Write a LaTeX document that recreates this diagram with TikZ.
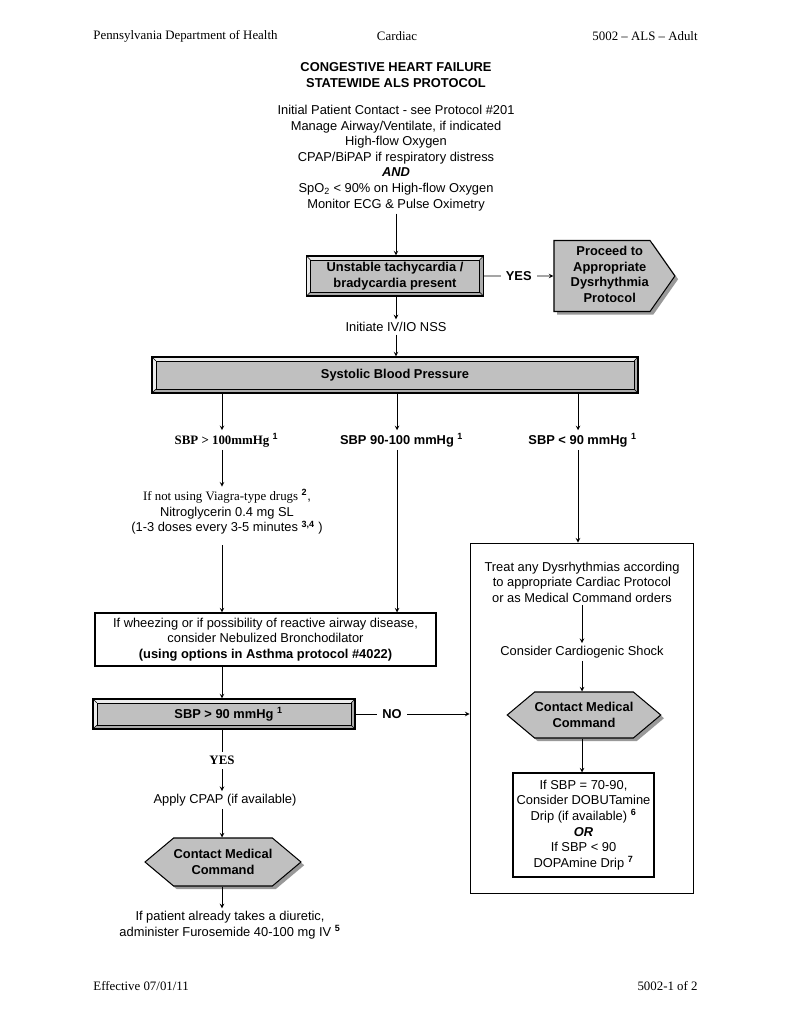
\documentclass[tikz,border=0pt]{standalone}
\usepackage{fontspec}
\setmainfont{Liberation Serif}
\newfontfamily\arialf{Liberation Sans}
\usepackage{xcolor}
\usepackage{tikz}
\usetikzlibrary{shapes.symbols}
\usetikzlibrary{shadows}
\usetikzlibrary{calc}
\tikzset{>=stealth}
\newcommand{\pu}{0.7737bp}
\newcommand{\sups}[1]{\textsuperscript{\arialf\bfseries #1}}
\definecolor{boxgray}{RGB}{192,192,192}
\tikzset{
  hdr/.style={font=\fontsize{10}{12}\selectfont, inner sep=0pt},
  txt/.style={font=\arialf\fontsize{10}{12.1}\selectfont, align=center, inner xsep=0pt, inner ysep=2pt},
  btxt/.style={txt, font=\arialf\bfseries\fontsize{10}{12}\selectfont},
  plainbox/.style={txt, draw, line width=0.8pt, fill=white},
  bevel/.style={btxt, draw, line width=0.9pt, fill=boxgray, path picture={
      \coordinate (ba) at (path picture bounding box.north west);
      \coordinate (bb) at (path picture bounding box.north east);
      \coordinate (bc) at (path picture bounding box.south east);
      \coordinate (bd) at (path picture bounding box.south west);
      \coordinate (ia) at ([shift={(3pt,-3pt)}]ba);
      \coordinate (ib) at ([shift={(-3pt,-3pt)}]bb);
      \coordinate (ic) at ([shift={(-3pt,3pt)}]bc);
      \coordinate (id) at ([shift={(3pt,3pt)}]bd);
      \fill[gray!15] (ba) -- (bb) -- (ib) -- (ia) -- (id) -- (bd) -- cycle;
      \fill[gray!65] (bc) -- (bb) -- (ib) -- (ic) -- (id) -- (bd) -- cycle;
      \filldraw[fill=boxgray, line width=0.4pt] (ia) rectangle (ic);
      \draw[line width=0.4pt] (ba) -- (ia) (bb) -- (ib) (bc) -- (ic) (bd) -- (id);
    }},
  hexa/.style={btxt, draw, line width=0.8pt, fill=boxgray, signal, signal to=east and west,
    signal pointer angle=80, drop shadow={shadow xshift=2.5pt, shadow yshift=-2.5pt, fill=gray, opacity=.8}},
  pointer/.style={btxt, draw, line width=0.8pt, fill=boxgray, signal, signal to=east,
    signal pointer angle=110, inner xsep=1pt, drop shadow={shadow xshift=2.5pt, shadow yshift=-2.5pt, fill=gray, opacity=.8}}
}

\begin{document}
\begin{tikzpicture}[x=\pu, y=-\pu, line width=0.6pt]
  \useasboundingbox[fill=white] (0,0) rectangle (791,1024);

  % header and title
  \node[hdr, anchor=west] (dept) at (93,36) {Pennsylvania Department of Health};
  \node[hdr] (sect) at (397,36) {Cardiac};
  \node[hdr, anchor=east] (pcode) at (698,36) {5002 \textendash{} ALS \textendash{} Adult};
  \node[btxt] (title) at (396,75) {CONGESTIVE HEART FAILURE\\STATEWIDE ALS PROTOCOL};
  \node[txt] (init) at (396,158) {Initial Patient Contact - see Protocol \#201\\Manage Airway/Ventilate, if indicated\\High-flow Oxygen\\CPAP/BiPAP if respiratory distress\\\textbf{\textit{AND}}\\SpO\textsubscript{2} < 90\% on High-flow Oxygen\\Monitor ECG \& Pulse Oximetry};

  % top of the chart
  \node[bevel, minimum width=177*\pu, minimum height=40*\pu] (unst) at (395,276) {Unstable tachycardia /\\bradycardia present};
  \node[pointer, minimum height=71*\pu] (proc) at (602,276) {\hspace*{12pt}\begin{tabular}{@{}c@{}}Proceed to\\Appropriate\\Dysrhythmia\\Protocol\end{tabular}};
  \node[txt] (ivio) at (396,327) {Initiate IV/IO NSS};
  \node[bevel, minimum width=486*\pu, minimum height=36*\pu] (sbp) at (395,375) {Systolic Blood Pressure};

  % three branches
  \node[btxt] (sbpl) at (222,440) {\rmfamily SBP > 100mmHg\rlap{ \sups{1}}};
  \node[btxt] (sbpm) at (397,440) {SBP 90-100 mmHg\rlap{ \sups{1}}};
  \node[btxt] (sbpr) at (578,440) {SBP < 90 mmHg\rlap{ \sups{1}}};

  % left column
  \node[txt] (nitro) at (227,512) {{\rmfamily If not using Viagra-type drugs} \sups{2},\\Nitroglycerin 0.4 mg SL\\(1-3 doses every 3-5 minutes \sups{3,4} )};
  \node[plainbox, minimum width=341*\pu, minimum height=53*\pu] (neb) at (265.5,639.5) {If wheezing or if possibility of reactive airway disease,\\consider Nebulized Bronchodilator\\\textbf{(using options in Asthma protocol \#4022)}};
  \node[bevel, minimum width=262*\pu, minimum height=30*\pu] (sbp90) at (224,714) {SBP > 90 mmHg\rlap{ \sups{1}}};
  \node[txt] (cpap) at (225,800) {Apply CPAP (if available)};
  \node[hexa, minimum width=148*\pu, minimum height=48*\pu] (cmcl) at (223,862) {Contact Medical\\Command};
  \node[txt] (furo) at (230,925) {If patient already takes a diuretic,\\administer Furosemide 40-100 mg IV \sups{5}};

  % right column
  \node[draw, line width=0.7pt, minimum width=223*\pu, minimum height=350*\pu] (rbox) at (581.5,718) {};
  \node[txt] (dys) at (582,582) {Treat any Dysrhythmias according\\to appropriate Cardiac Protocol\\or as Medical Command orders};
  \node[txt] (shock) at (582,652) {Consider Cardiogenic Shock};
  \node[hexa, minimum width=152*\pu, minimum height=46*\pu] (cmcr) at (584,715) {Contact Medical\\Command};
  \node[plainbox, minimum width=141*\pu, minimum height=104*\pu] (drip) at (583.5,825) {If SBP = 70-90,\\Consider DOBUTamine\\Drip (if available) \sups{6}\\\textbf{\textit{OR}}\\If SBP < 90\\DOPAmine Drip \sups{7}};

  % footer
  \node[hdr, anchor=west] (eff) at (93,986) {Effective 07/01/11};
  \node[hdr, anchor=east] (pnum) at (698,986) {5002-1 of 2};

  % connectors
  \draw[->] (init) -- (init |- unst.north);
  \path[->] (unst) edge node[btxt, fill=white, inner xsep=4pt] {YES} (proc);
  \draw[->] (ivio |- unst.south) -- (ivio);
  \draw[->] (ivio) -- (ivio |- sbp.north);
  \draw[->] (sbpl |- sbp.south) -- (sbpl);
  \draw[->] (sbpm |- sbp.south) -- (sbpm);
  \draw[->] (sbpr |- sbp.south) -- (sbpr);
  \draw[->] (sbpl) -- (sbpl |- nitro.north);
  \draw[->, shorten <=6pt] (sbpl |- nitro.south) -- (sbpl |- neb.north);
  \draw[->] (sbpm) -- (sbpm |- neb.north);
  \draw[->] (sbpl |- neb.south) -- (sbpl |- sbp90.north);
  \path[->] (sbp90) edge node[pos=0.32, btxt, fill=white, inner xsep=4pt] {NO} (sbp90 -| rbox.west);
  \path[->] (sbpl |- sbp90.south) edge node[hdr, font=\bfseries\fontsize{10}{12}\selectfont, fill=white, inner sep=3pt] {YES} (sbpl |- cpap.north);
  \draw[->] (sbpl |- cpap.south) -- (sbpl |- cmcl.north);
  \draw[->] (sbpl |- cmcl.south) -- (sbpl |- furo.north);
  \draw[->] (sbpr) -- (sbpr |- rbox.north);
  \draw[->] (dys) -- (dys |- shock.north);
  \draw[->] (shock) -- (shock |- cmcr.north);
  \draw[->] (shock |- cmcr.south) -- (shock |- drip.north);
\end{tikzpicture}
\end{document}
